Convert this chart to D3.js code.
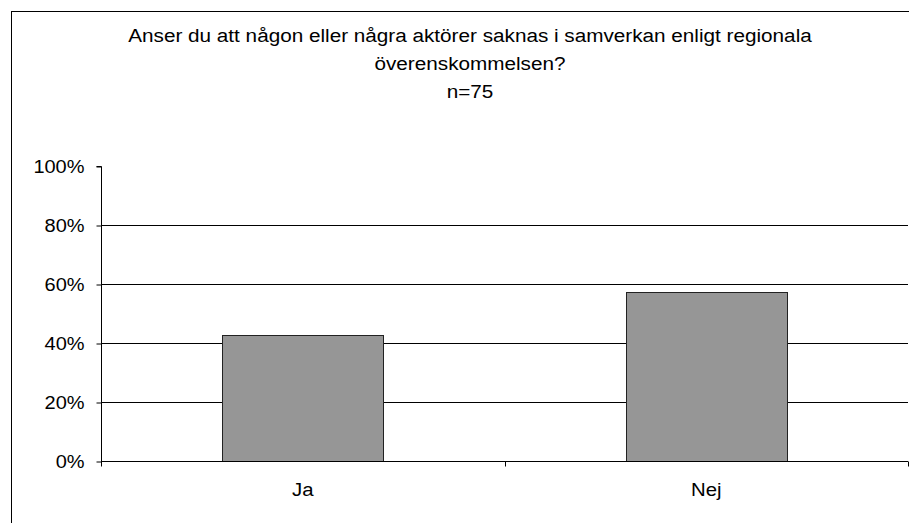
<!DOCTYPE html>
<html><head><meta charset="utf-8">
<script src="https://cdn.jsdelivr.net/npm/d3@7"></script>
<style>html,body{margin:0;padding:0;background:#fff;overflow:hidden}</style>
</head><body>
<script>
const titleLines = ["Anser du att någon eller några aktörer saknas i samverkan enligt regionala", "överenskommelsen?", "n=75"];
const categories = ["Ja", "Nej"];
const values = [0.4267, 0.5733];
const yTicks = [0, 0.2, 0.4, 0.6, 0.8, 1.0];

const W = 909, H = 523;
const svg = d3.select("body").append("svg").attr("width", W).attr("height", H);
const font = "Liberation Sans, Arial, sans-serif";

function stretch(sel, f) {
  sel.each(function () {
    const len = this.getComputedTextLength();
    d3.select(this).attr("textLength", len * f).attr("lengthAdjust", "spacingAndGlyphs");
  });
}

svg.append("rect").attr("x", 11.5).attr("y", 11.5).attr("width", 1000).attr("height", 1000)
  .attr("fill", "#fff").attr("stroke", "#000").attr("stroke-width", 1);

const pL = 101, pR = 908, pT = 166, pB = 461;
const x = d3.scaleBand().domain(categories).range([pL, pR]).padding(0);
const y = d3.scaleLinear().domain([0, 1]).range([pB, pT]);

// gridlines
svg.append("g").selectAll("line").data(yTicks.filter(d => d > 0 && d < 1)).join("line")
  .attr("x1", pL).attr("x2", pR)
  .attr("y1", d => Math.round(y(d)) + 0.5).attr("y2", d => Math.round(y(d)) + 0.5)
  .attr("stroke", "#000").attr("stroke-width", 1);

// bars
const bw = x.bandwidth() * 0.4;
svg.append("g").selectAll("rect").data(categories).join("rect")
  .attr("x", (d) => Math.round(x(d) + x.bandwidth() / 2 - bw / 2) + 0.5)
  .attr("y", (d, i) => Math.round(y(values[i])) + 0.5)
  .attr("width", Math.round(bw))
  .attr("height", (d, i) => Math.round(pB - y(values[i])))
  .attr("fill", "#969696").attr("stroke", "#222").attr("stroke-width", 1);

// y axis
const yAxis = d3.axisLeft(y).tickValues(yTicks).tickFormat(d3.format(".0%")).tickSize(5).tickPadding(12);
const gy = svg.append("g").attr("transform", `translate(${pL + 0.5},0.5)`).call(yAxis);
gy.selectAll("text").attr("font-family", font).attr("font-size", 18).attr("fill", "#000").call(stretch, 1.11);
gy.selectAll("line,path").attr("stroke", "#000");
gy.select(".domain").attr("d", `M-5,${pT}H0V${pB}`);

// x axis
const xAxis = d3.axisBottom(x).tickSize(0).tickPadding(22);
const gx = svg.append("g").attr("transform", `translate(0,${pB + 0.5})`).call(xAxis);
gx.select(".domain").attr("d", `M${pL},0H${pR}`).attr("stroke", "#000");
gx.selectAll("text").attr("font-family", font).attr("font-size", 18).attr("fill", "#000").call(stretch, 1.13);
// category boundary ticks
const bounds = [pL, ...categories.map(c => x(c) + x.bandwidth())];
gx.selectAll(".bt").data(bounds).join("line").attr("class", "bt")
  .attr("x1", d => Math.round(d) + 0.5).attr("x2", d => Math.round(d) + 0.5)
  .attr("y1", 0).attr("y2", 5).attr("stroke", "#000");

// title
svg.append("g").selectAll("text").data(titleLines).join("text")
  .attr("x", 470).attr("y", (d, i) => 42 + i * 28)
  .attr("text-anchor", "middle").attr("font-family", font).attr("font-size", 18)
  .attr("fill", "#000").text(d => d).call(stretch, 1.15);
</script>
</body></html>
